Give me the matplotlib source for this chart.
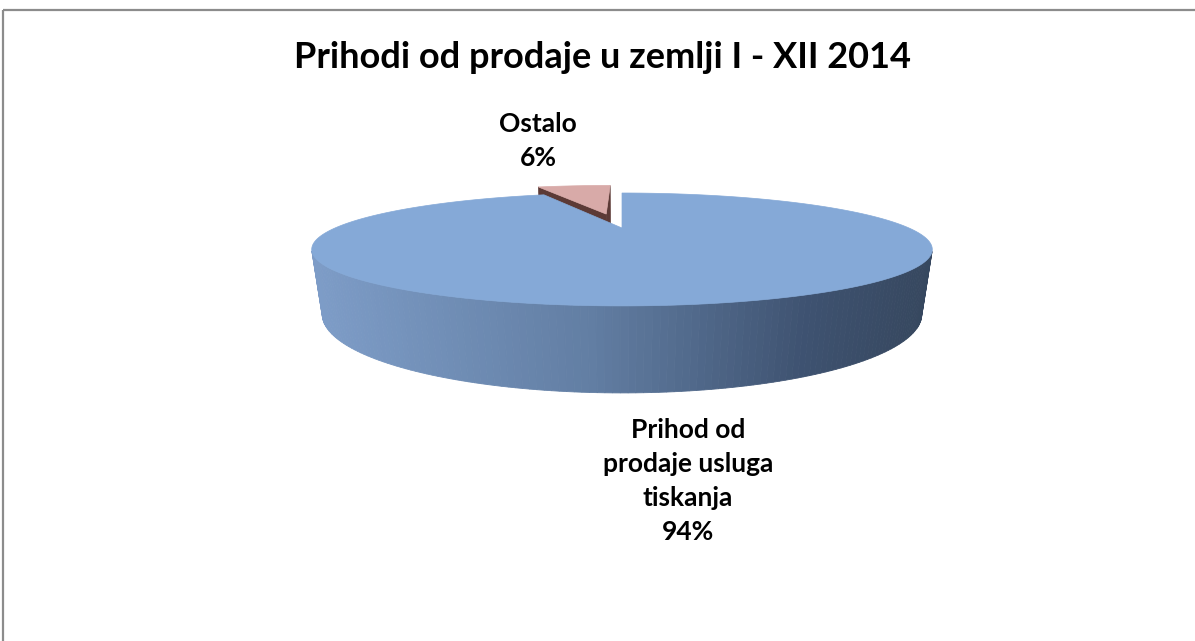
import numpy as np
import matplotlib
matplotlib.use('Agg')
import matplotlib.pyplot as plt
from matplotlib.patches import Polygon, Rectangle
from matplotlib.colors import LinearSegmentedColormap

# data
title = 'Prihodi od prodaje u zemlji I - XII 2014'
labels = ['Prihod od\nprodaje usluga\ntiskanja', 'Ostalo']
shares = [94, 6]
top_colors = ['#85A9D7', '#D8AAA8']
wall_colors = ['#5F7A9E', '#5C3A36']
explode = [0.0, 0.33]

# perspective of the 3D pie (pixel space)
CX, CY = 622, 228
A, B = 287, 48.3
K = 0.38
DEPTH = 58.9
M = 0.03

side_cmap = LinearSegmentedColormap.from_list(
    'side', [(0.0, '#7E9DC8'), (0.45, '#627EA3'), (0.8, '#3E5270'), (1.0, '#36475E')])

plt.rcParams['font.family'] = ['Lato', 'DejaVu Sans']

fig = plt.figure(figsize=(11.95, 6.41), dpi=100)
ax = fig.add_axes([0, 0, 1, 1])
ax.set_xlim(0, 1195)
ax.set_ylim(641, 0)
ax.axis('off')


def project(x, y, z):
    # z = 0 top face, z = 1 bottom face
    w = 1 + K * y + M * z
    return CX + A * x / w, CY - (B * y - DEPTH * z) / w


def area(pts):
    pts = np.asarray(pts)
    x, y = pts[:, 0], pts[:, 1]
    return 0.5 * np.sum(x * np.roll(y, -1) - np.roll(x, -1) * y)


# reference orientation: top face seen from above
ring = np.linspace(0, 2 * np.pi, 60, endpoint=False)
ref_sign = np.sign(area([project(np.cos(t), np.sin(t), 0) for t in ring]))


def visible(pts):
    return np.sign(area(pts)) == ref_sign


# slice angles, Excel style: start at 12 o'clock, go clockwise
fracs = np.array(shares) / np.sum(shares)
starts = np.pi / 2 - 2 * np.pi * np.concatenate([[0], np.cumsum(fracs)[:-1]])
ends = starts - 2 * np.pi * fracs

# pie extent on screen for the side gradient
left_x = CX - A * 1.08
right_x = CX + A * 1.08

order = [1, 0]  # exploded slice sits behind
for i in order:
    lo, hi = ends[i], starts[i]
    mid = (lo + hi) / 2
    ox, oy = explode[i] * np.cos(mid), explode[i] * np.sin(mid)

    def P(r, t, z):
        return project(ox + r * np.cos(t), oy + r * np.sin(t), z)

    # radial faces
    f_lo = [P(0, lo, 0), P(0, lo, 1), P(1, lo, 1), P(1, lo, 0)]
    f_hi = [P(0, hi, 0), P(1, hi, 0), P(1, hi, 1), P(0, hi, 1)]
    for f in (f_lo, f_hi):
        if visible(f):
            ax.add_patch(Polygon(f, closed=True, facecolor=wall_colors[i],
                                 edgecolor=wall_colors[i], linewidth=0.5))

    # outer wall strips, far ones first
    n = max(int(np.degrees(hi - lo)), 4)
    ts = np.linspace(lo, hi, n + 1)
    strips = []
    for t1, t2 in zip(ts[:-1], ts[1:]):
        f = [P(1, t1, 0), P(1, t1, 1), P(1, t2, 1), P(1, t2, 0)]
        if visible(f):
            strips.append((np.sin((t1 + t2) / 2), f))
    strips.sort(key=lambda s: -s[0])
    for _, f in strips:
        xm = np.mean([p[0] for p in f])
        c = side_cmap(np.clip((xm - left_x) / (right_x - left_x), 0, 1)) if i == 0 else wall_colors[i]
        ax.add_patch(Polygon(f, closed=True, facecolor=c, edgecolor=c, linewidth=0.6))

    # top face
    arc = np.linspace(lo, hi, n * 2 + 2)
    top = [P(0, lo, 0)] + [P(1, t, 0) for t in arc]
    ax.add_patch(Polygon(top, closed=True, facecolor=top_colors[i],
                         edgecolor=top_colors[i], linewidth=0.5))

# data labels
label_pos = [(688, 481), (538, 141)]
for lab, s, (lx, ly) in zip(labels, shares, label_pos):
    ax.text(lx, ly, f'{lab}\n{s}%', ha='center', va='center', ma='center',
            fontsize=19, fontweight='bold', color='black', linespacing=1.5)

ax.text(603, 57, title, ha='center', va='center', fontsize=26,
        fontweight='bold', color='black')

# chart frame
ax.add_patch(Rectangle((3, 10), 1300, 800, fill=False, edgecolor='#8C8C8C',
                       linewidth=1.6))

fig.savefig('out.png', dpi=100)
